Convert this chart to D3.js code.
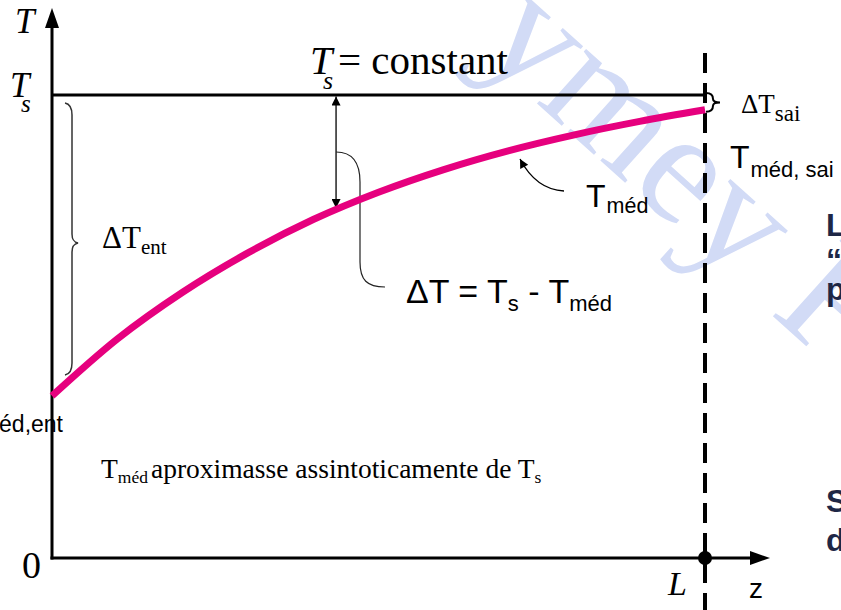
<!DOCTYPE html>
<html>
<head>
<meta charset="utf-8">
<script src="https://cdn.jsdelivr.net/npm/d3@7"></script>
<style>
  html, body { margin: 0; padding: 0; background: #fff; overflow: hidden; }
  svg { display: block; }
</style>
</head>
<body>
<div id="chart"></div>
<script>
// Mean fluid temperature along a tube held at constant surface temperature
const zValues = [0, 0.1, 0.2, 0.3, 0.4, 0.5, 0.6, 0.7, 0.8, 0.9, 1.0];
const tMedValues = [35.0, 47.3, 57.4, 65.9, 73.1, 79.0, 83.9, 88.0, 91.4, 94.3, 96.8];
const surfaceTemp = 100;      // T_s
const tubeLength = 1;         // L
const deltaMarkerZ = 0.435;   // where ΔT = Ts − Tméd is marked
const tickLabels = { zero: "0", length: "L" };

const W = 841, H = 610;
const serif = "'Liberation Serif', 'Times New Roman', serif";
const sans = "'Liberation Sans', Arial, sans-serif";
const magenta = "#e6007e";

const svg = d3.select("#chart").append("svg")
  .attr("width", W).attr("height", H);

const x = d3.scaleLinear().domain([0, tubeLength]).range([52, 705]);
const y = d3.scaleLinear().domain([0, surfaceTemp]).range([558, 95]);

const data = zValues.map((z, i) => ({ z, t: tMedValues[i] }));
const tAt = d3.scaleLinear().domain(zValues).range(tMedValues);

// faint watermark lettering
svg.append("text")
  .attr("transform", "translate(835,372) rotate(42)")
  .attr("text-anchor", "end")
  .attr("font-family", serif)
  .attr("font-size", 160)
  .attr("fill", "#d2dbf6")
  .text("ymey F");

const defs = svg.append("defs");
defs.append("marker")
  .attr("id", "head")
  .attr("viewBox", "0 0 10 10")
  .attr("refX", 10).attr("refY", 5)
  .attr("markerWidth", 13).attr("markerHeight", 9)
  .attr("markerUnits", "userSpaceOnUse")
  .attr("orient", "auto-start-reverse")
  .append("path").attr("d", "M0,0 L10,5 L0,10 Z").attr("fill", "#000");

// axes with arrowheads
const x0 = x(0), y0 = y(0);
svg.append("line").attr("x1", x0).attr("y1", y0 + 1.5).attr("x2", x0).attr("y2", 26)
  .attr("stroke", "#000").attr("stroke-width", 3);
svg.append("path").attr("d", `M${x0},8 L${x0 - 7},28 L${x0 + 7},28 Z`).attr("fill", "#000");
svg.append("line").attr("x1", x0 - 1.5).attr("y1", y0).attr("x2", 752).attr("y2", y0)
  .attr("stroke", "#000").attr("stroke-width", 3);
svg.append("path").attr("d", `M770,${y0} L750,${y0 - 7} L750,${y0 + 7} Z`).attr("fill", "#000");

// constant surface temperature
svg.append("line")
  .attr("x1", x(0)).attr("x2", x(tubeLength))
  .attr("y1", y(surfaceTemp)).attr("y2", y(surfaceTemp))
  .attr("stroke", "#000").attr("stroke-width", 3);

// tube exit
svg.append("line")
  .attr("x1", x(tubeLength)).attr("x2", x(tubeLength))
  .attr("y1", 53).attr("y2", H)
  .attr("stroke", "#000").attr("stroke-width", 4)
  .attr("stroke-dasharray", "20,10");
svg.append("circle").attr("cx", x(tubeLength)).attr("cy", y0).attr("r", 7).attr("fill", "#000");

// ΔT double arrow and its leader
const ax = x(deltaMarkerZ);
svg.append("line")
  .attr("x1", ax).attr("x2", ax)
  .attr("y1", y(surfaceTemp) + 1.5).attr("y2", y(tAt(deltaMarkerZ)) - 2)
  .attr("stroke", "#000").attr("stroke-width", 1.3)
  .attr("marker-start", "url(#head)").attr("marker-end", "url(#head)");
svg.append("path")
  .attr("d", `M${ax},152 C${ax + 17},152 360,163 360,182 L360,262 C360,280 367,287 385,287`)
  .attr("fill", "none").attr("stroke", "#222").attr("stroke-width", 1.2);

// Tméd pointer
svg.append("path")
  .attr("d", "M564,191 C544,190 530,178 520,159")
  .attr("fill", "none").attr("stroke", "#000").attr("stroke-width", 1.3)
  .attr("marker-end", "url(#head)");

// braces for ΔT_ent and ΔT_sai
const yTs = y(surfaceTemp), yIn = y(tMedValues[0]);
svg.append("path")
  .attr("d", `M65,${yTs + 8} C70,${yTs + 9} 72,${yTs + 13} 72,${yTs + 20} L72,234 C72,240 74,242 78,243 C74,244 72,246 72,252 L72,${yIn - 33} C72,${yIn - 26} 70,${yIn - 22} 65,${yIn - 21}`)
  .attr("fill", "none").attr("stroke", "#333").attr("stroke-width", 1.5);
const yOut = y(tMedValues[tMedValues.length - 1]);
const bx = x(tubeLength);
const bm = (yTs + yOut) / 2;
svg.append("path")
  .attr("d", `M${bx + 1},${yTs - 2} C${bx + 7},${yTs - 2} ${bx + 8},${yTs + 1} ${bx + 8},${yTs + 4} C${bx + 8},${bm - 1} ${bx + 10},${bm} ${bx + 15},${bm} C${bx + 10},${bm} ${bx + 8},${bm + 1} ${bx + 8},${yOut - 4} C${bx + 8},${yOut - 1} ${bx + 7},${yOut + 2} ${bx + 1},${yOut + 2}`)
  .attr("fill", "none").attr("stroke", "#000").attr("stroke-width", 2);

// mean temperature curve
svg.append("path")
  .datum(data)
  .attr("d", d3.line().x(d => x(d.z)).y(d => y(d.t)).curve(d3.curveMonotoneX))
  .attr("fill", "none").attr("stroke", magenta).attr("stroke-width", 7);

// text helper: main text with optional subscript
function label(px, py, main, sub, opt) {
  const t = svg.append("text")
    .attr("x", px).attr("y", py)
    .attr("font-family", opt.family)
    .attr("font-size", opt.size)
    .attr("font-style", opt.italic ? "italic" : null)
    .attr("fill", opt.fill || "#000");
  t.append("tspan").text(main);
  if (sub) {
    t.append("tspan")
      .attr("font-size", opt.subSize)
      .attr("dy", opt.subDy)
      .attr("dx", opt.subDx || 0)
      .text(sub);
  }
  return t;
}

label(15, 33, "T", null, { family: serif, size: 35, italic: true });
label(10, 97, "T", null, { family: serif, size: 35, italic: true });
label(21, 112, "s", null, { family: serif, size: 25, italic: true });
label(22, 578, tickLabels.zero, null, { family: serif, size: 38 });
label(668, 595, tickLabels.length, null, { family: serif, size: 34, italic: true });
label(749, 598, "z", null, { family: sans, size: 28 });

// Ts = constant
label(310, 74, "T", null, { family: serif, size: 40, italic: true });
label(323, 89, "s", null, { family: serif, size: 26, italic: true });
label(338, 74, "= constant", null, { family: serif, size: 41 });

label(102, 248, "ΔT", "ent", { family: serif, size: 31, subSize: 21, subDy: 6 });
label(741, 113, "ΔT", "sai", { family: serif, size: 27, subSize: 23, subDy: 8 });
label(730, 168, "T", "méd, sai", { family: sans, size: 32, subSize: 22, subDy: 9, subDx: 1 });
label(586, 207, "T", "méd", { family: sans, size: 32, subSize: 21.5, subDy: 6, subDx: 1 });

// ΔT = Ts - Tméd
const eq = svg.append("text").attr("x", 406).attr("y", 303)
  .attr("font-family", sans).attr("font-size", 34);
eq.append("tspan").text("ΔT = T");
eq.append("tspan").attr("font-size", 22).attr("dy", 8).text("s");
eq.append("tspan").attr("dy", -8).text(" - T");
eq.append("tspan").attr("font-size", 22).attr("dy", 8).text("méd");

// inlet label, running past the left edge
label(63, 432, "Tméd,ent".slice(1), null, { family: sans, size: 23 }).attr("text-anchor", "end");

// asymptote remark
const rem = svg.append("text").attr("x", 101).attr("y", 478)
  .attr("font-family", serif).attr("font-size", 27.5);
rem.append("tspan").text("T");
rem.append("tspan").attr("font-size", 17.5).attr("dy", 5).text("méd");
rem.append("tspan").attr("dy", -5).attr("dx", 3).text("aproximasse assintoticamente de T");
rem.append("tspan").attr("font-size", 17.5).attr("dy", 5).text("s");

// text spilling in from the right margin
const navy = "#1e2746";
[["L", 236], ["“", 271], ["p", 300], ["S", 512], ["d", 551]].forEach(([s, py]) => {
  svg.append("text").attr("x", 826).attr("y", py)
    .attr("font-family", sans).attr("font-weight", "bold").attr("font-size", 32)
    .attr("fill", navy).text(s);
});
</script>
</body>
</html>
